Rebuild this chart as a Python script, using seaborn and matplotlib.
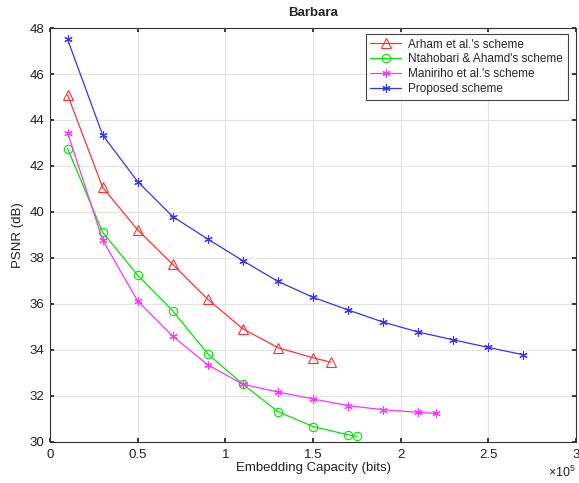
import numpy as np
import pandas as pd
import matplotlib
matplotlib.use('Agg')
import matplotlib.pyplot as plt
import matplotlib.ticker as mticker
import seaborn as sns

# Embedding capacity (x 1e5 bits) and PSNR values for each scheme
arham_x = [0.1, 0.3, 0.5, 0.7, 0.9, 1.1, 1.3, 1.5, 1.6]
arham_y = [45.1, 41.07, 39.22, 37.72, 36.2, 34.92, 34.1, 33.66, 33.47]

ntah_x = [0.1, 0.3, 0.5, 0.7, 0.9, 1.1, 1.3, 1.5, 1.7, 1.75]
ntah_y = [42.76, 39.12, 37.25, 35.7, 33.83, 32.51, 31.32, 30.67, 30.31, 30.24]

mani_x = [0.1, 0.3, 0.5, 0.7, 0.9, 1.1, 1.3, 1.5, 1.7, 1.9, 2.1, 2.2]
mani_y = [43.45, 38.78, 36.13, 34.6, 33.35, 32.51, 32.17, 31.87, 31.58, 31.4, 31.29, 31.24]

prop_x = [0.1, 0.3, 0.5, 0.7, 0.9, 1.1, 1.3, 1.5, 1.7, 1.9, 2.1, 2.3, 2.5, 2.7]
prop_y = [47.51, 43.35, 41.32, 39.8, 38.82, 37.88, 36.98, 36.29, 35.74, 35.21, 34.78, 34.44, 34.11, 33.79]

labels = ["Arham et al.'s scheme", "Ntahobari & Ahamd's scheme",
          "Maniriho et al.'s scheme", "Proposed scheme"]


class GFormatter(mticker.ScalarFormatter):
    # plain '%g' tick labels, keep the x10^5 offset text
    def _set_format(self):
        self.format = '%g'


sns.set_theme(style='whitegrid')
plt.rcParams['font.family'] = ['Liberation Sans', 'DejaVu Sans']
plt.rcParams['mathtext.fontset'] = 'custom'
plt.rcParams['mathtext.rm'] = 'Liberation Sans'

fig = plt.figure(figsize=(5.79, 4.83), dpi=100)
ax = fig.add_axes([0.0864, 0.085, 0.9085, 0.857])

series = [
    (arham_x, arham_y, '#ff3333', '^', 'none', 7),
    (ntah_x, ntah_y, '#00e600', 'o', 'none', 6),
    (mani_x, mani_y, '#ff33ff', (6, 2, 0), '#ff33ff', 6),
    (prop_x, prop_y, '#3333ff', (6, 2, 0), '#0000cc', 6),
]

for (xs, ys, col, mk, mfc, ms), lab in zip(series, labels):
    sns.lineplot(x=np.array(xs) * 1e5, y=ys, ax=ax, color=col, marker=mk,
                 markersize=ms, markerfacecolor=mfc, markeredgecolor=col,
                 markeredgewidth=0.8, linewidth=0.9, label=lab, sort=False)

ax.set_xlim(0, 3e5)
ax.set_ylim(30, 48)
ax.set_xticks(np.arange(0, 3.01e5, 0.5e5))
ax.set_yticks(np.arange(30, 49, 2))

fmt = GFormatter(useMathText=True)
fmt.set_powerlimits((0, 0))
ax.xaxis.set_major_formatter(fmt)
ax.xaxis.get_offset_text().set_fontsize(9)
ax.xaxis.get_offset_text().set_color('#222222')

ax.grid(True, color='#e3e3e3', linewidth=0.8)
for sp in ax.spines.values():
    sp.set_color('#333333')
    sp.set_linewidth(0.8)
ax.tick_params(direction='in', length=3, labelsize=9.5, colors='#222222',
               bottom=True, left=True, top=True, right=True,
               labeltop=False, labelright=False)
ax.tick_params(axis='x', pad=5)
ax.tick_params(axis='y', pad=4)

ax.set_xlabel('Embedding Capacity (bits)', fontsize=9.5, color='#222222', labelpad=1)
ax.set_ylabel('PSNR (dB)', fontsize=9.5, color='#222222')
ax.set_title('Barbara', fontsize=9.5, fontweight='bold', pad=9)

leg = ax.legend(loc='upper right', fontsize=8.5, frameon=True, fancybox=False,
                framealpha=1, edgecolor='#444444', borderpad=0.4,
                handlelength=2.6, handletextpad=0.6, labelspacing=0.25,
                borderaxespad=0, bbox_to_anchor=(0.984, 0.986))
leg.get_frame().set_linewidth(0.8)

fig.savefig('out.png', dpi=100)
